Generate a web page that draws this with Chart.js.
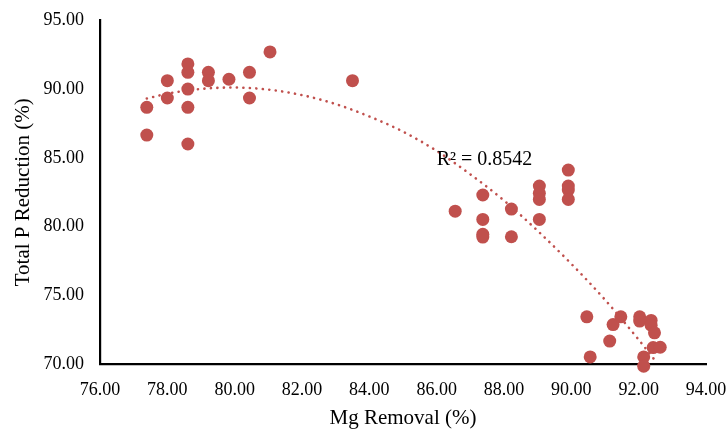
<!DOCTYPE html>
<html>
<head>
<meta charset="utf-8">
<script src="https://cdn.jsdelivr.net/npm/chart.js@4.4.0/dist/chart.umd.min.js"></script>
<style>
html,body{margin:0;padding:0;background:#fff;}
#wrap{width:728px;height:434px;position:relative;}
</style>
</head>
<body>
<div id="wrap"><canvas id="c" width="728" height="434"></canvas></div>
<script>
// Scatter data
const mgRemoval = [77.39, 77.39, 78.0, 78.0, 78.61, 78.61, 78.61, 78.61, 78.61, 79.22, 79.22, 79.83, 80.44, 80.44, 81.05, 83.5,
  86.55, 87.37, 87.37, 87.37, 87.37, 88.22, 88.22, 89.05, 89.05, 89.05, 89.05, 89.91, 89.91, 89.91, 89.91,
  90.46, 90.56, 91.14, 91.24, 91.47, 92.03, 92.03, 92.37, 92.37, 92.47, 92.43, 92.64, 92.15, 92.15];
const totalPReduction = [88.66, 86.65, 90.6, 89.34, 91.81, 91.2, 89.99, 88.66, 86.0, 91.2, 90.6, 90.7, 91.2, 89.34, 92.68, 90.6,
  81.13, 82.3, 80.53, 79.25, 79.45, 81.28, 79.27, 82.95, 82.42, 81.98, 80.53, 84.11, 82.95, 82.66, 81.98,
  73.46, 70.55, 71.7, 72.9, 73.46, 73.46, 73.15, 73.2, 72.85, 72.3, 71.23, 71.25, 70.55, 69.88];

// Polynomial trendline
const trendX = [77.39, 78, 79, 80, 81, 82, 83, 84, 85, 86, 87, 88, 89, 90, 91, 92, 92.55];
const trendY = [89.3, 89.65, 90.0, 90.1, 89.95, 89.55, 88.9, 88.0, 86.9, 85.5, 83.8, 81.9, 79.7, 77.3, 74.7, 71.8, 70.1];

const xTicks = [76, 78, 80, 82, 84, 86, 88, 90, 92, 94];
const yTicks = [70, 75, 80, 85, 90, 95];
const r2Label = 'R\u00B2 = 0.8542';
const r2At = [86.0, 84.84];

const RED = '#C0504D';
const FONT = '"Liberation Serif", "Times New Roman", serif';

const pts = mgRemoval.map((x, i) => ({x: x, y: totalPReduction[i]}));
const trend = trendX.map((x, i) => ({x: x, y: trendY[i]}));

const r2Plugin = {
  id: 'r2',
  afterDatasetsDraw(chart) {
    const ctx = chart.ctx;
    const px = chart.scales.x.getPixelForValue(r2At[0]);
    const py = chart.scales.y.getPixelForValue(r2At[1]);
    ctx.save();
    ctx.font = '20px ' + FONT;
    ctx.fillStyle = '#000';
    ctx.textAlign = 'left';
    ctx.textBaseline = 'middle';
    ctx.fillText(r2Label, px, py);
    ctx.restore();
  }
};

new Chart(document.getElementById('c'), {
  type: 'scatter',
  data: {
    datasets: [
      {
        label: 'Trend',
        data: trend,
        showLine: true,
        borderColor: RED,
        borderWidth: 2.6,
        borderDash: [0.1, 6.4],
        borderCapStyle: 'round',
        pointRadius: 0,
        tension: 0.4,
        cubicInterpolationMode: 'monotone',
        fill: false,
        order: 0,
        clip: false
      },
      {
        label: 'Data',
        data: pts,
        backgroundColor: RED,
        borderColor: RED,
        borderWidth: 0,
        pointRadius: 6.5,
        pointHoverRadius: 6.5,
        order: 1,
        clip: false
      }
    ]
  },
  options: {
    responsive: false,
    animation: false,
    devicePixelRatio: 1,
    layout: {padding: {top: 20, right: 22, left: 0, bottom: 0}},
    plugins: {legend: {display: false}, tooltip: {enabled: false}},
    scales: {
      x: {
        type: 'linear',
        min: 76, max: 94,
        afterBuildTicks(s) { s.ticks = xTicks.map(v => ({value: v})); },
        afterFit(s) { s.height = 69.5; s.paddingLeft = 0; s.paddingRight = 0; },
        grid: {display: true, color: 'rgba(0,0,0,0)', drawTicks: false},
        border: {display: true, color: '#000', width: 2.2},
        ticks: {
          padding: 15,
          color: '#000',
          font: {family: FONT, size: 18},
          maxRotation: 0,
          callback: v => Number(v).toFixed(2)
        },
        title: {
          display: true,
          text: 'Mg Removal (%)',
          color: '#000',
          font: {family: FONT, size: 21},
          padding: {top: 0, bottom: 3}
        }
      },
      y: {
        type: 'linear',
        min: 70, max: 95,
        afterBuildTicks(s) { s.ticks = yTicks.map(v => ({value: v})); },
        afterFit(s) { s.width = 100; s.paddingTop = 0; s.paddingBottom = 0; },
        grid: {display: true, color: 'rgba(0,0,0,0)', drawTicks: false},
        border: {display: true, color: '#000', width: 2.2},
        ticks: {
          padding: 16,
          color: '#000',
          font: {family: FONT, size: 18},
          callback: v => Number(v).toFixed(2)
        },
        title: {
          display: true,
          text: 'Total P Reduction (%)',
          color: '#000',
          font: {family: FONT, size: 21},
          padding: {top: 11, bottom: 0}
        }
      }
    }
  },
  plugins: [r2Plugin]
});
</script>
</body>
</html>
